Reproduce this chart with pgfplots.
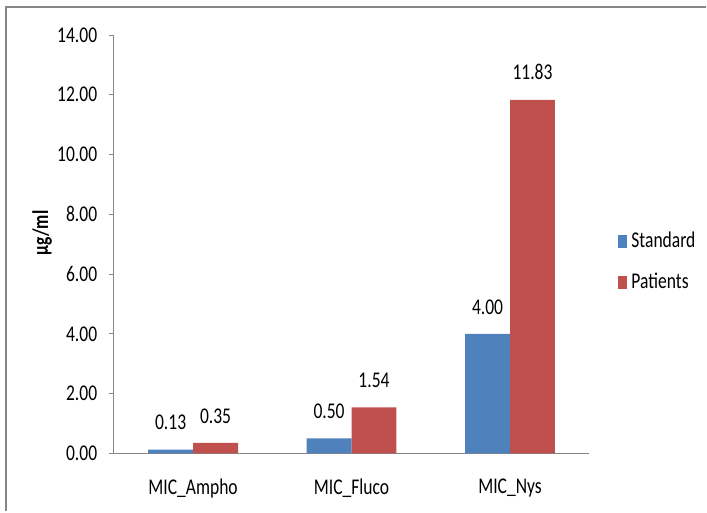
\documentclass[border=0pt]{standalone}
\usepackage{fontspec}
\setmainfont{Carlito}[FakeStretch=0.78]
\usepackage{pgfplots}
\pgfplotsset{compat=1.18}
\definecolor{xlblue}{HTML}{4F81BD}
\definecolor{xlred}{HTML}{C0504D}
\definecolor{axgray}{HTML}{868686}
\begin{document}
\fontsize{22.5bp}{27bp}\selectfont
\begin{tikzpicture}
% page and frame
\path (0,0) rectangle (707bp,512bp);
\draw[axgray, line width=1.8bp] (6bp,0) -- (6bp,505bp) -- (707bp,505bp);
\begin{axis}[
    at={(114bp,58bp)}, anchor=south west,
    scale only axis,
    width=476bp, height=419bp,
    ybar,
    ymin=0, ymax=14,
    ytick={0,2,...,14},
    xmin=-0.5, xmax=2.5,
    xtick={0,1,2},
    xticklabels={MIC\_Ampho, MIC\_Fluco, MIC\_Nys},
    major x tick style={draw=none},
    extra x ticks={-0.5,0.5,1.5,2.5},
    extra x tick labels={},
    extra x tick style={major tick length=8bp, tick style={axgray, line width=0.8bp}},
    axis x line*=bottom,
    axis y line*=left,
    axis line style={axgray, line width=0.8bp, -},
    tick align=outside,
    major tick length=5bp,
    tick style={axgray, line width=0.8bp},
    yticklabel style={xshift=-4bp, /pgf/number format/.cd, fixed, fixed zerofill, precision=2},
    /pgf/number format/assume math mode=true,
    xticklabel style={yshift=-13bp},
    ylabel={\textbf{µg/ml}},
    ylabel style={at={(axis description cs:-0.151,0.527)}, anchor=center},
    bar width=0.2835,
    nodes near coords,
    nodes near coords style={/pgf/number format/.cd, fixed, fixed zerofill, precision=2, /tikz/.cd, anchor=south, yshift=12bp, text=black},
    legend style={draw=none, at={(axis description cs:1.061,0.458)}, anchor=west,
        row sep=18bp, inner sep=0pt, nodes={inner xsep=4bp, inner ysep=2bp}},
    legend cell align=left,
    legend image code/.code={\path[#1, draw=none] (0bp,-7bp) rectangle (9bp,6bp);},
]
\addplot[fill=xlblue, draw=none, bar shift=-0.14175]
    coordinates {(0,0.13) (1,0.50) (2,4.00)};
\addplot[fill=xlred, draw=none, bar shift=0.14175]
    coordinates {(0,0.35) (1,1.54) (2,11.83)};
\legend{Standard, Patients}
\end{axis}
\end{tikzpicture}
\end{document}
